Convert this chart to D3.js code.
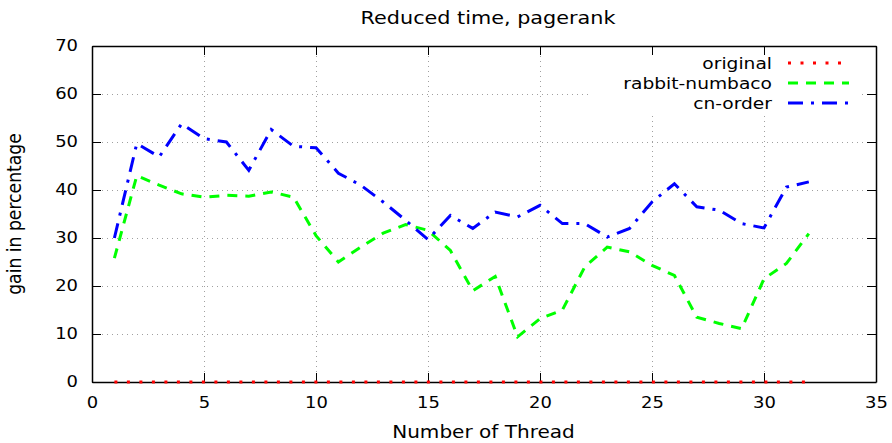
<!DOCTYPE html>
<html>
<head>
<meta charset="utf-8">
<script src="https://cdn.jsdelivr.net/npm/d3@7"></script>
<style>
  body { margin: 0; background: #fff; }
  svg text { font-family: "DejaVu Sans", sans-serif; fill: #000; }
</style>
</head>
<body>
<div id="chart"></div>
<script>
// threads 1..32
const threads = d3.range(1, 33);
const original = threads.map(() => 0);
const rabbitNumbaco = [25.8, 43, 41, 39.2, 38.5, 38.9, 38.7, 39.6, 38.5, 30.5,
  25, 28.1, 31, 32.8, 31.6, 27.4, 19, 22, 9.4, 13.2,
  15, 24, 28.1, 27.1, 24.3, 22.2, 13.5, 12.2, 11.1, 21.5,
  24.7, 30.9];
const cnOrder = [30, 49.7, 46.9, 53.8, 50.7, 50, 44.1, 52.6, 49.1, 48.8,
  43.5, 41, 37.5, 33.7, 29.7, 34.7, 32, 35.4, 34.4, 36.8,
  33, 33, 30.2, 32, 37.5, 41.3, 36.5, 35.8, 33, 32.1,
  40.6, 41.7];
const xTicks = [0, 5, 10, 15, 20, 25, 30, 35];
const yTicks = [0, 10, 20, 30, 40, 50, 60, 70];

const w = 892, h = 443;
const mLeft = 92, mRight = 876, mTop = 46, mBottom = 382;
const sx = 1.166; // the picture's text is a bit wider than tall

const svg = d3.select("#chart").append("svg")
  .attr("width", w).attr("height", h);

const x = d3.scaleLinear().domain([0, 35]).range([mLeft, mRight]);
const y = d3.scaleLinear().domain([0, 70]).range([mBottom, mTop]);

// grid
const grid = svg.append("g").attr("stroke", "#a0a0a0").attr("stroke-width", 1)
  .attr("stroke-dasharray", "1,4");
grid.selectAll(".gx").data(xTicks.slice(1, -1)).enter().append("line")
  .attr("x1", d => Math.round(x(d)) + 0.5).attr("x2", d => Math.round(x(d)) + 0.5)
  .attr("y1", mTop).attr("y2", mBottom);
grid.selectAll(".gy").data(yTicks.slice(1, -1)).enter().append("line")
  .attr("y1", d => Math.round(y(d)) + 0.5).attr("y2", d => Math.round(y(d)) + 0.5)
  .attr("x1", mLeft).attr("x2", mRight);

// white box behind the key
svg.append("rect").attr("x", 592).attr("y", mTop + 1).attr("width", 270).attr("height", 66)
  .attr("fill", "#fff");

// axes (gnuplot style: inward ticks, mirrored)
const tk = 9;
const xAxisG = svg.append("g").attr("transform", `translate(0,${mBottom})`)
  .call(d3.axisBottom(x).tickValues(xTicks).tickSizeInner(-tk).tickSizeOuter(0).tickPadding(15));
svg.append("g").attr("transform", `translate(0,${mTop})`)
  .call(d3.axisTop(x).tickValues(xTicks).tickSizeInner(-tk).tickSizeOuter(0).tickFormat(""));
const yAxisG = svg.append("g").attr("transform", `translate(${mLeft},0)`)
  .call(d3.axisLeft(y).tickValues(yTicks).tickSizeInner(-tk).tickSizeOuter(0).tickPadding(12));
svg.append("g").attr("transform", `translate(${mRight},0)`)
  .call(d3.axisRight(y).tickValues(yTicks).tickSizeInner(-tk).tickSizeOuter(0).tickFormat(""));
svg.selectAll(".domain").attr("stroke", "#000").attr("stroke-width", 1.5);
svg.selectAll(".tick line").attr("stroke", "#000").attr("stroke-width", 1);
svg.selectAll(".tick text").attr("font-size", 15.4).attr("font-family", "DejaVu Sans")
  .attr("transform", `scale(${sx},1)`);

// series
const series = [
  { name: "original", values: original, color: "#ff0000", dash: "3,9.5" },
  { name: "rabbit-numbaco", values: rabbitNumbaco, color: "#00ff00", dash: "10,8" },
  { name: "cn-order", values: cnOrder, color: "#0000ff", dash: "15,8,3,8" }
];

const line = d3.line().x((d, i) => x(threads[i])).y(d => y(d));

series.forEach((s, k) => {
  svg.append("path").datum(s.values)
    .attr("d", line)
    .attr("fill", "none")
    .attr("stroke", s.color)
    .attr("stroke-width", 3)
    .attr("stroke-dasharray", s.dash);

  // key
  const ky = 63 + k * 20;
  svg.append("text").attr("transform", `translate(772,${ky}) scale(${sx},1)`).attr("dy", "0.35em")
    .attr("text-anchor", "end").attr("font-size", 16).text(s.name);
  svg.append("line").attr("x1", 788).attr("x2", 849).attr("y1", ky).attr("y2", ky)
    .attr("stroke", s.color).attr("stroke-width", 3).attr("stroke-dasharray", s.dash);
});

// titles
svg.append("text").attr("transform", `translate(488,24) scale(${sx},1)`).attr("text-anchor", "middle")
  .attr("font-size", 17.8).text("Reduced time, pagerank");
svg.append("text").attr("transform", `translate(483.5,438) scale(${sx},1)`).attr("text-anchor", "middle")
  .attr("font-size", 17.2).text("Number of Thread");
svg.append("text").attr("transform", `translate(21,214) rotate(-90) scale(1,${sx})`)
  .attr("text-anchor", "middle").attr("font-size", 17.2).text("gain in percentage");
</script>
</body>
</html>
